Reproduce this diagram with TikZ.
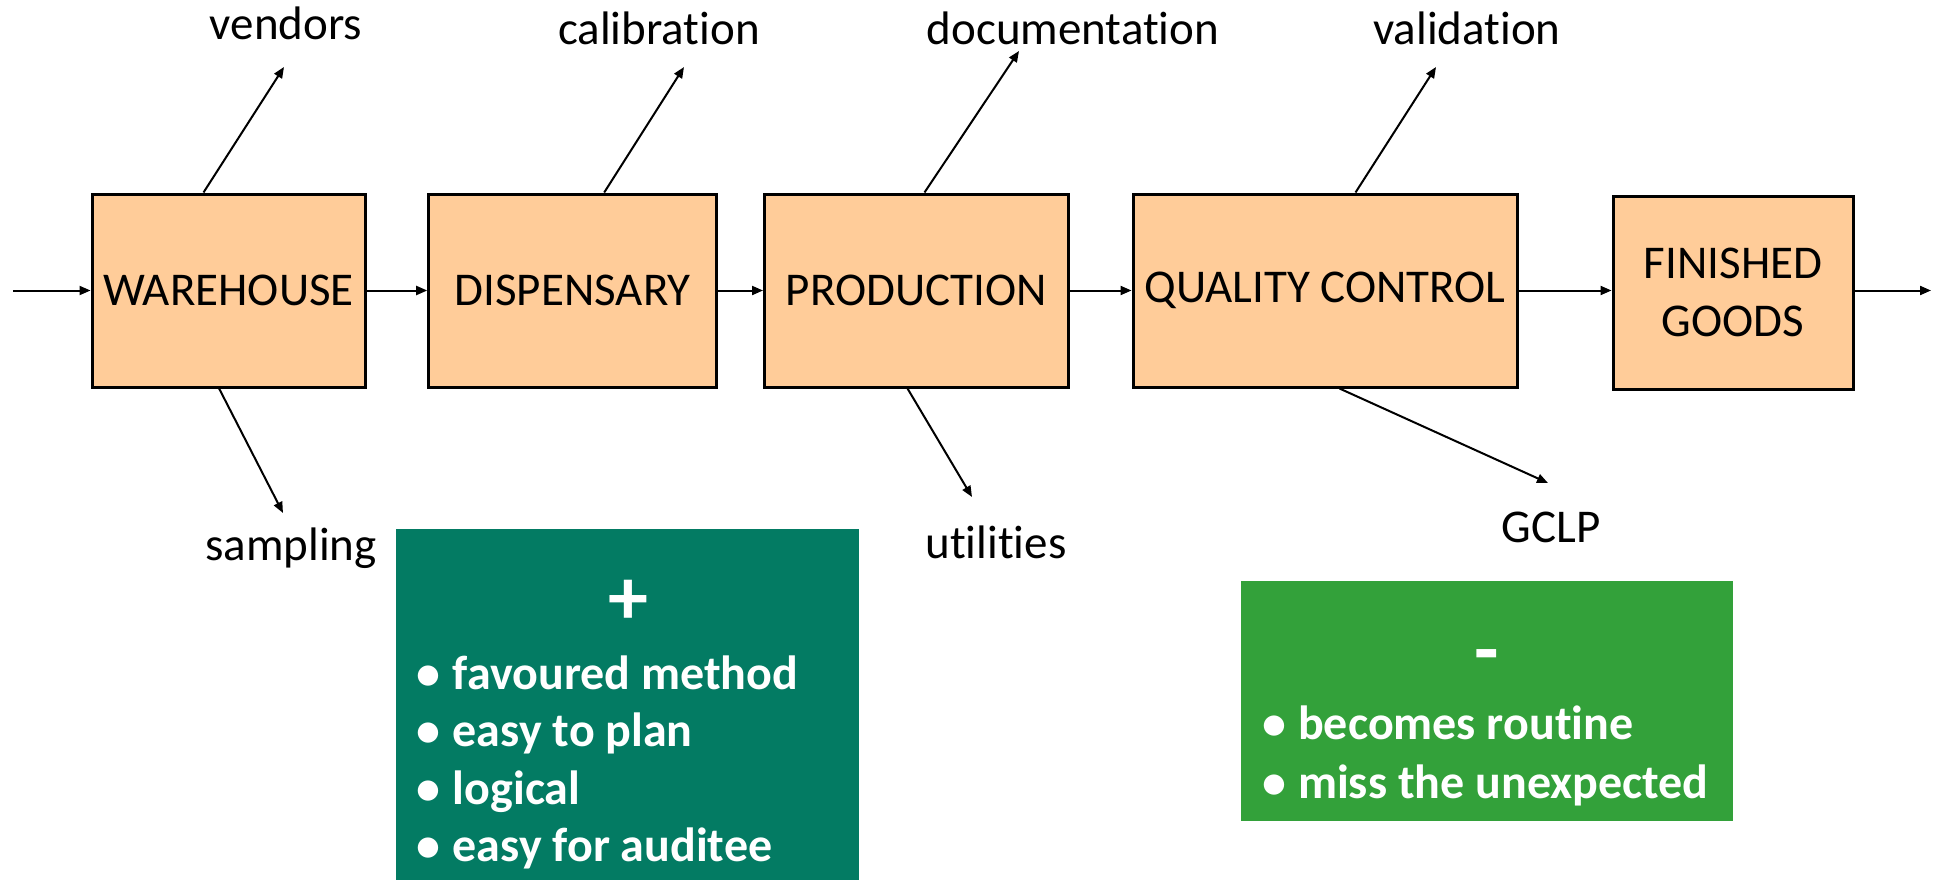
\documentclass[tikz,border=0pt]{standalone}
\usepackage{fontspec}
\setmainfont{Carlito}[Ligatures={NoCommon}]
\usetikzlibrary{arrows.meta}
\definecolor{peach}{RGB}{255,204,153}
\definecolor{tealgreen}{RGB}{3,123,99}
\definecolor{leafgreen}{RGB}{51,161,58}
\begin{document}
\begin{tikzpicture}[x=1pt,y=-1pt,
  stage/.style={draw=black,line width=3pt,fill=peach,inner sep=0pt,minimum height=193pt,font=\fontsize{47}{58}\selectfont,align=center},
  lbl/.style={anchor=base,inner sep=0pt,font=\fontsize{47}{58}\selectfont},
  arr/.style={line width=2pt,-{Triangle[length=11pt,width=9pt]}},
  panel/.style={inner sep=0pt,draw=none},
  bul/.style={anchor=base west,inner sep=0pt,text=white,font=\fontsize{48}{58}\selectfont\bfseries},
  head/.style={anchor=base,inner sep=0pt,text=white,font=\fontsize{80}{90}\selectfont\bfseries}]
\useasboundingbox (0,0) rectangle (1939,880);

% panels
\node[panel,fill=tealgreen,minimum width=463pt,minimum height=352pt] (plus) at (627.5,705) {};
\node[panel,fill=leafgreen,minimum width=492pt,minimum height=240pt] (minus) at (1487,701) {};

% stages
\node[stage,minimum width=273pt] (wh) at (228.5,290.5) {WAREHOUSE};
\node[stage,minimum width=288pt] (disp) at (572.7,290.5) {DISPENSARY};
\node[stage,minimum width=304pt] (prod) at (916.5,290.5) {PRODUCTION};
\node[stage,minimum width=384pt] (qc) at (1325,290.5) {QUALITY CONTROL};
\node[stage,minimum width=240pt] (fg) at (1733,292.5) {FINISHED\\GOODS};

% main flow
\coordinate (in) at (13,290.5);
\coordinate (out) at (1931,290.5);
\draw[arr] (in) -- (wh);
\draw[arr] (wh) -- (disp);
\draw[arr] (disp) -- (prod);
\draw[arr] (prod) -- (qc);
\draw[arr] (qc) -- (fg.west |- qc.east);
\draw[arr] (fg.east |- out) -- (out);

% labels
\node[lbl] (vend) at (286,40) {vendors};
\node[lbl] (cal) at (659,45) {calibration};
\node[lbl] (doc) at (1073,45) {documentation};
\node[lbl] (val) at (1467,45) {validation};
\node[lbl] (samp) at (291,560) {sampling};
\node[lbl] (util) at (996,558) {utilities};
\node[lbl] (gclp) at (1551,542) {GCLP};

% side arrows
\coordinate (vendE) at (284,67);
\coordinate (calE) at (684,67);
\coordinate (docE) at (1019,51);
\coordinate (valE) at (1436,67);
\coordinate (sampE) at (283,513);
\coordinate (utilE) at (972,497);
\coordinate (gclpE) at (1548,483);
\draw[arr] ([xshift=113pt]wh.north west) -- (vendE);
\draw[arr] ([xshift=177pt]disp.north west) -- (calE);
\draw[arr] ([xshift=161.5pt]prod.north west) -- (docE);
\draw[arr] ([xshift=224pt]qc.north west) -- (valE);
\draw[arr] ([xshift=128.6pt]wh.south west) -- (sampE);
\draw[arr] ([xshift=144.5pt]prod.south west) -- (utilE);
\draw[arr] ([xshift=208pt]qc.south west) -- (gclpE);

% panel texts
\node[head] (plusH) at (628,624) {+};
\node[bul] (p1) at (452.7,689) {\llap{•\hspace{12pt}}favoured method};
\node[bul] (p2) at (452.7,746) {\llap{•\hspace{12pt}}easy to plan};
\node[bul] (p3) at (452.7,804) {\llap{•\hspace{12pt}}logical};
\node[bul] (p4) at (452.7,861) {\llap{•\hspace{12pt}}easy for auditee};
\node[head] (minusH) at (1487,676) {-};
\node[bul] (m1) at (1298,739) {\llap{•\hspace{12pt}}becomes routine};
\node[bul] (m2) at (1298,798) {\llap{•\hspace{12pt}}miss the unexpected};
\end{tikzpicture}
\end{document}
